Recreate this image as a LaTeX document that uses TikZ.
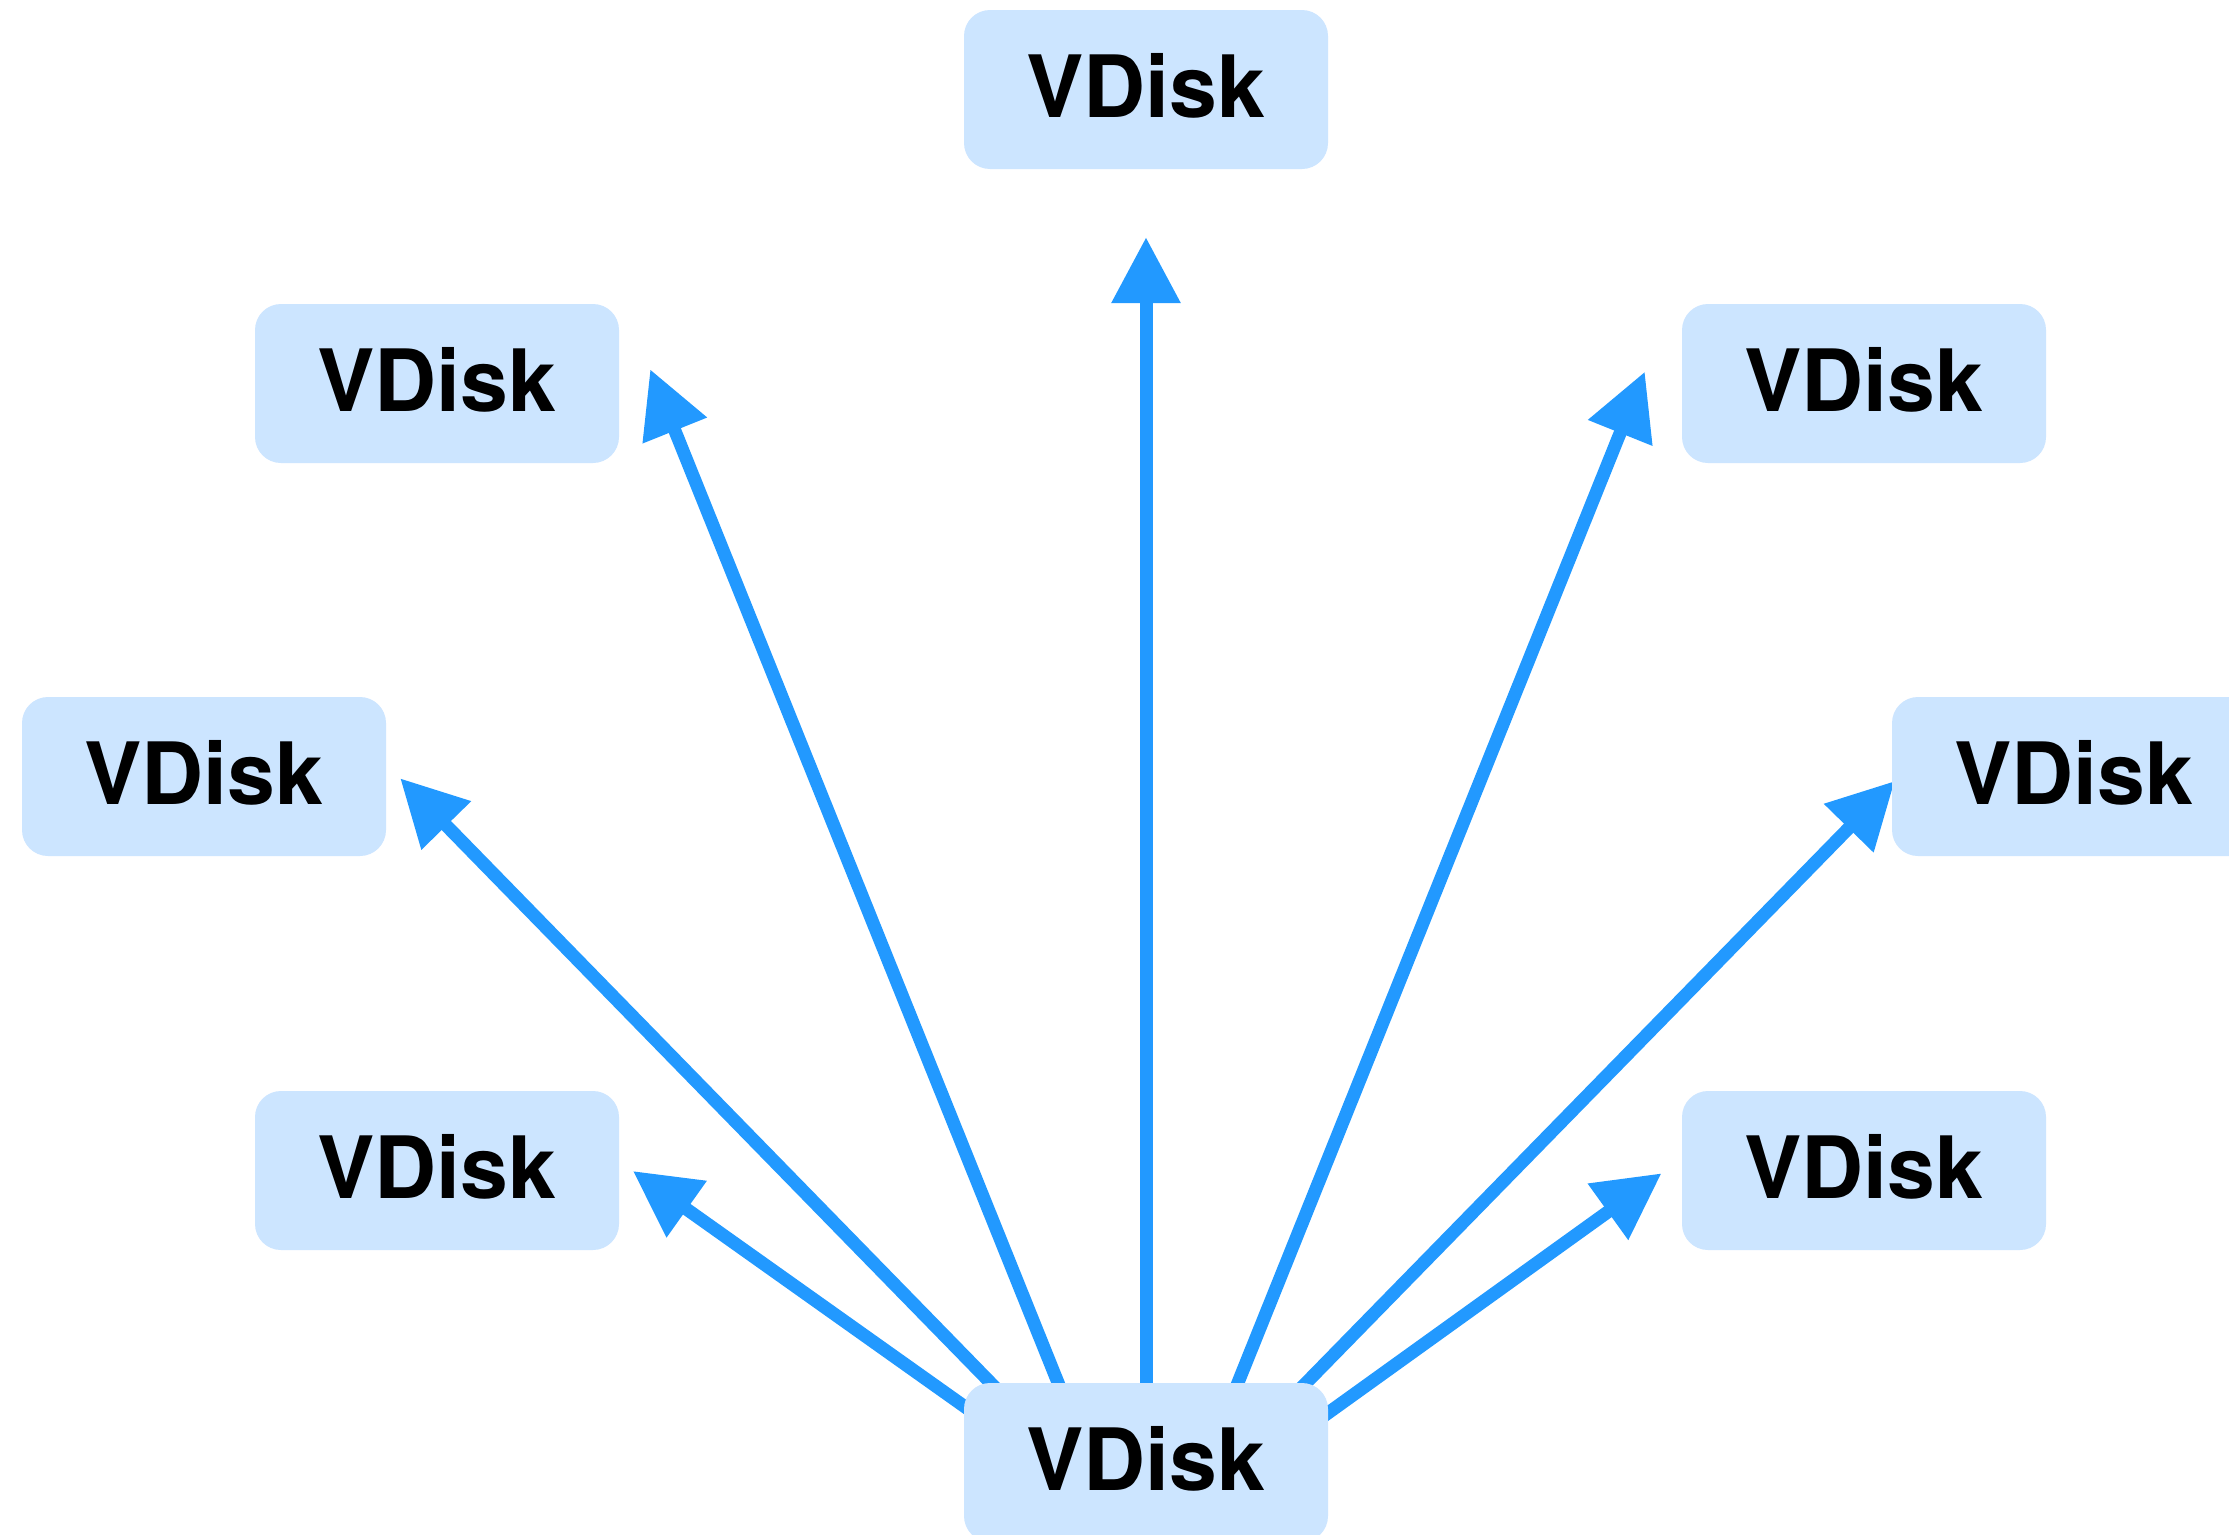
\documentclass[tikz,border=0pt]{standalone}
\usepackage{fontspec}
\setmainfont{TeX Gyre Heros}
\usetikzlibrary{arrows.meta,calc,backgrounds}
\definecolor{diskfill}{RGB}{204,229,255}
\definecolor{linkblue}{RGB}{34,153,255}
\begin{document}
\begin{tikzpicture}[x=1pt,y=-1pt,
  disk/.style={rectangle, rounded corners=26pt, fill=diskfill,
    minimum width=364pt, minimum height=159pt, inner sep=0pt,
    text height=63pt, text depth=8pt,
    font=\fontsize{86}{100}\selectfont\bfseries},
  link/.style={draw=linkblue, line width=13pt,
    -{Triangle[length=66pt,width=66pt]}}]
\useasboundingbox (0,0) rectangle (2229,1534);

% disks
\node[disk] (top) at (1146,89.5)   {VDisk};
\node[disk] (ul)  at (437,383.5)   {VDisk};
\node[disk] (ur)  at (1864,383.5)  {VDisk};
\node[disk] (ml)  at (204,776.5)   {VDisk};
\node[disk] (mr)  at (2074,776.5)  {VDisk};
\node[disk] (ll)  at (437,1170.5)  {VDisk};
\node[disk] (lr)  at (1864,1170.5) {VDisk};
\node[disk] (src) at (1146,1462.5) {VDisk};

% links fan out from the source disk, drawn beneath the boxes
\begin{scope}[on background layer]
  \fill[white] (0,0) rectangle (2229,1534);
  \draw[link] ($(src.center)+(0,-62.5)$)      -- ($(top.south)+(0,68)$);
  \draw[link] ($(src.center)+(-81,-62.5)$)    -- ($(ul.east)+(31,-14.2)$);
  \draw[link] ($(src.center)+(85,-62.5)$)     -- ($(ur.west)+(-37,-11.8)$);
  \draw[link] ($(src.center)+(-138.6,-62.5)$) -- ($(ml.east)+(14,1.8)$);
  \draw[link] ($(src.center)+(143.4,-62.5)$)  -- ($(mr.west)+(3,4.5)$);
  \draw[link] ($(src.center)+(-166,-45)$)     -- ($(ll.east)+(13.7,0.5)$);
  \draw[link] ($(src.center)+(166,-38)$)      -- ($(lr.west)+(-20.3,2.8)$);
\end{scope}
\end{tikzpicture}
\end{document}
